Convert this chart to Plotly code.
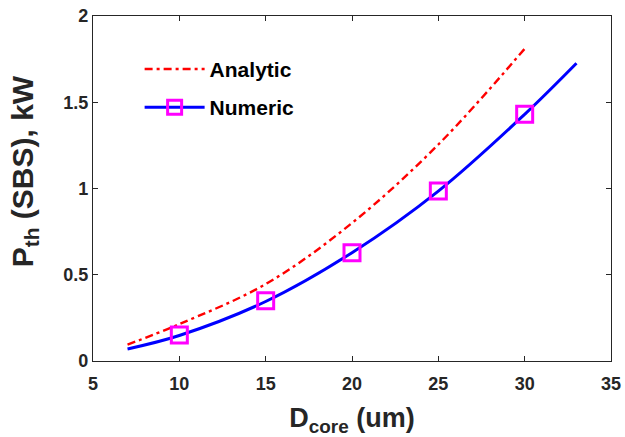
import plotly.graph_objects as go

# Values
d_analytic = [7, 10, 15, 20, 25, 30]
p_analytic = [0.095, 0.214, 0.446, 0.80, 1.255, 1.81]

d_numeric_line = [7, 10, 15, 20, 25, 30, 33]
p_numeric_line = [0.07, 0.148, 0.345, 0.628, 0.985, 1.43, 1.726]

d_numeric_pts = [10, 15, 20, 25, 30]
p_numeric_pts = [0.151, 0.35, 0.628, 0.986, 1.43]

x_ticks = [5, 10, 15, 20, 25, 30, 35]
y_ticks = [0, 0.5, 1, 1.5, 2]
y_ticklabels = ["0", "0.5", "1", "1.5", "2"]

RED = "#FF0000"
BLUE = "#0000FF"
MAG = "#FF00FF"
AX = "#262626"
FONT = "Liberation Sans, Arial, sans-serif"
DASH = "8px,4px,3px,4px"

fig = go.Figure()

fig.add_trace(go.Scatter(
    x=d_analytic, y=p_analytic, mode="lines", name="Analytic",
    line=dict(color=RED, width=2.4, dash=DASH, shape="spline"),
    legendgroup="a", showlegend=True,
))
fig.add_trace(go.Scatter(
    x=d_numeric_line, y=p_numeric_line, mode="lines",
    line=dict(color=BLUE, width=3, shape="spline"),
    legendgroup="n", showlegend=False,
))
fig.add_trace(go.Scatter(
    x=d_numeric_pts, y=p_numeric_pts, mode="markers",
    marker=dict(symbol="square-open", size=16, color=MAG, line=dict(color=MAG, width=3)),
    legendgroup="n", showlegend=False,
))
fig.add_trace(go.Scatter(
    x=[None], y=[None], mode="lines+markers", name="Numeric",
    line=dict(color=BLUE, width=3),
    marker=dict(symbol="square-open", size=14, color=MAG, line=dict(color=MAG, width=3)),
    legendgroup="n", showlegend=True,
))

fig.update_layout(
    width=625, height=437,
    margin=dict(l=93, r=14, t=16, b=76, autoexpand=False),
    paper_bgcolor="white", plot_bgcolor="white",
    font=dict(family=FONT, color=AX),
    showlegend=True,
    legend=dict(
        x=0.09, y=0.905, xanchor="left", yanchor="top",
        bgcolor="rgba(0,0,0,0)", borderwidth=0,
        font=dict(family=FONT, size=21, color="#000000", weight="bold"),
        tracegroupgap=8, itemwidth=60,
    ),
    xaxis=dict(
        range=[5, 35], tickvals=x_ticks, ticks="inside", ticklen=5,
        tickcolor=AX, showline=True, linecolor=AX, linewidth=1.2, mirror="ticks",
        showgrid=False, zeroline=False, ticklabelstandoff=6, automargin=False,
        tickfont=dict(family=FONT, size=18, color=AX, weight="bold"),
        title=dict(text="D<sub>core</sub> (um)", standoff=20,
                   font=dict(family=FONT, size=27, color=AX, weight="bold")),
    ),
    yaxis=dict(
        range=[0, 2], tickvals=y_ticks, ticktext=y_ticklabels, ticks="inside", ticklen=5,
        tickcolor=AX, showline=True, linecolor=AX, linewidth=1.2, mirror="ticks",
        showgrid=False, zeroline=False, automargin=False,
        tickfont=dict(family=FONT, size=18, color=AX, weight="bold"),
    ),
    annotations=[dict(
        text="P<sub>th</sub> (SBS), kW", textangle=-90,
        xref="paper", yref="paper", x=-0.133, y=0.55,
        xanchor="center", yanchor="middle", showarrow=False,
        font=dict(family=FONT, size=30, color=AX, weight="bold"),
    )],
)

fig.write_html("out.html")
